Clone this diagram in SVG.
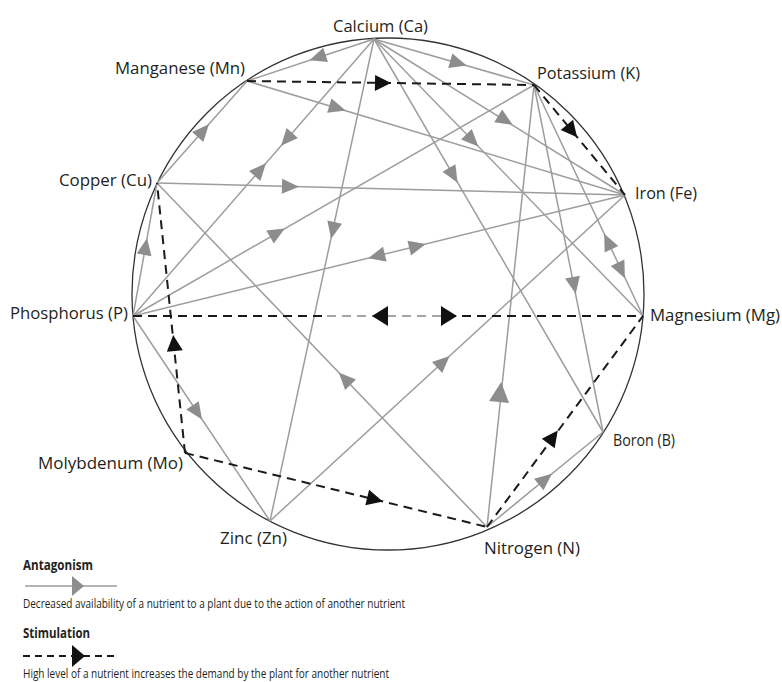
<svg xmlns="http://www.w3.org/2000/svg" width="782" height="682" viewBox="0 0 782 682">
<style>
.lbl{font-family:"Open Sans","Liberation Sans",sans-serif;font-size:16px;fill:#231f20}
.ant{stroke:#9d9d9d;stroke-width:1.5;fill:none}
.stim{stroke:#1a1a1a;stroke-width:2;stroke-dasharray:9 6;fill:none}
.stimg{stroke:#a5a5a5;stroke-width:2;stroke-dasharray:9 6;fill:none}
.lh{font-family:"Open Sans","Liberation Sans",sans-serif;font-size:15px;font-weight:bold;fill:#231f20}
.ld{font-family:"Open Sans","Liberation Sans",sans-serif;font-size:12.5px;fill:#231f20}
</style>
<defs>
<path id="ga" d="M9,0 L-8,-7.5 L-8,7.5 Z" fill="#8d8d8d"/>
<path id="gaL" d="M11,0 L-9,-10 L-9,10 Z" fill="#8d8d8d"/>
<path id="ba" d="M8,0 L-8,-8 L-8,8 Z" fill="#111"/>
<path id="baL" d="M8,0 L-8,-10 L-8,10 Z" fill="#111"/>
</defs>
<rect width="782" height="682" fill="#fff"/>
<circle cx="388" cy="294" r="256" fill="none" stroke="#333" stroke-width="1.3"/>
<g id="connectors">
<g id="antagonism">
<line class="ant" x1="374" y1="39" x2="247" y2="81"/>
<line class="ant" x1="374" y1="39" x2="534" y2="85"/>
<line class="ant" x1="374" y1="39" x2="625" y2="195"/>
<line class="ant" x1="374" y1="39" x2="643" y2="316"/>
<line class="ant" x1="374" y1="39" x2="603" y2="432"/>
<line class="ant" x1="374" y1="39" x2="270" y2="521"/>
<line class="ant" x1="133" y1="316" x2="374" y2="39"/>
<line class="ant" x1="157" y1="183" x2="247" y2="81"/>
<line class="ant" x1="133" y1="316" x2="157" y2="183"/>
<line class="ant" x1="247" y1="81" x2="625" y2="195"/>
<line class="ant" x1="157" y1="183" x2="625" y2="195"/>
<line class="ant" x1="133" y1="316" x2="534" y2="85"/>
<line class="ant" x1="133" y1="316" x2="625" y2="195"/>
<line class="ant" x1="270" y1="521" x2="625" y2="195"/>
<line class="ant" x1="534" y1="85" x2="603" y2="432"/>
<line class="ant" x1="534" y1="85" x2="643" y2="316"/>
<line class="ant" x1="487" y1="527" x2="534" y2="85"/>
<line class="ant" x1="487" y1="527" x2="157" y2="183"/>
<line class="ant" x1="133" y1="316" x2="270" y2="521"/>
<line class="ant" x1="487" y1="527" x2="603" y2="432"/>
</g>
<g id="stimulation">
<line class="stim" x1="247" y1="81" x2="534" y2="85"/>
<line class="stim" x1="534" y1="85" x2="625" y2="195"/>
<line class="stim" x1="133" y1="316" x2="327" y2="316"/>
<line class="stimg" x1="327" y1="316" x2="447" y2="316"/>
<line class="stim" x1="447" y1="316" x2="643" y2="316"/>
<line class="stim" x1="185" y1="453" x2="157" y2="183"/>
<line class="stim" x1="185" y1="453" x2="487" y2="527"/>
<line class="stim" x1="487" y1="527" x2="643" y2="316"/>
</g>
<g id="arrowheads">
<use href="#ga" transform="translate(318,57.5) rotate(161.7)"/>
<use href="#ga" transform="translate(458,63) rotate(16)"/>
<use href="#ga" transform="translate(505,120) rotate(31.9)"/>
<use href="#ga" transform="translate(472,140) rotate(45.8)"/>
<use href="#ga" transform="translate(453,175) rotate(59.8)"/>
<use href="#ga" transform="translate(333,230) rotate(102.2)"/>
<use href="#ga" transform="translate(260,170) rotate(-49)"/>
<use href="#ga" transform="translate(287,139) rotate(131)"/>
<use href="#ga" transform="translate(203,131) rotate(-48.6)"/>
<use href="#ga" transform="translate(145.5,247) rotate(-79.8)"/>
<use href="#ga" transform="translate(337,108) rotate(16.8)"/>
<use href="#ga" transform="translate(290,186.4) rotate(1.5)"/>
<use href="#ga" transform="translate(277,233) rotate(-29.9)"/>
<use href="#ga" transform="translate(377,256) rotate(166.2)"/>
<use href="#ga" transform="translate(417,246.2) rotate(-13.8)"/>
<use href="#ga" transform="translate(443,362) rotate(-42.6)"/>
<use href="#ga" transform="translate(574,285) rotate(78.8)"/>
<use href="#ga" transform="translate(608,242) rotate(244.7)"/>
<use href="#ga" transform="translate(621,270) rotate(64.7)"/>
<use href="#gaL" transform="translate(500,393) rotate(-83.9)"/>
<use href="#ga" transform="translate(345,379) rotate(-133.8)"/>
<use href="#ga" transform="translate(197,412) rotate(56.2)"/>
<use href="#ga" transform="translate(545,479.5) rotate(-39.3)"/>
<use href="#ba" transform="translate(383,83) rotate(0.8)"/>
<use href="#ba" transform="translate(572,131) rotate(50.4)"/>
<use href="#baL" transform="translate(380,316) rotate(180)"/>
<use href="#baL" transform="translate(449,316)"/>
<use href="#ba" transform="translate(174,343) rotate(-95.9)"/>
<use href="#ba" transform="translate(375,499.5) rotate(13.8)"/>
<use href="#ba" transform="translate(553,437) rotate(-53.5)"/>
</g>
</g>
<g id="node-ca"><text class="lbl" x="333" y="32" textLength="95" lengthAdjust="spacingAndGlyphs">Calcium (Ca)</text></g>
<g id="node-mn"><text class="lbl" x="115" y="74" textLength="130" lengthAdjust="spacingAndGlyphs">Manganese (Mn)</text></g>
<g id="node-k"><text class="lbl" x="537" y="79" textLength="103" lengthAdjust="spacingAndGlyphs">Potassium (K)</text></g>
<g id="node-cu"><text class="lbl" x="59" y="186" textLength="93" lengthAdjust="spacingAndGlyphs">Copper (Cu)</text></g>
<g id="node-fe"><text class="lbl" x="635" y="199" textLength="62" lengthAdjust="spacingAndGlyphs">Iron (Fe)</text></g>
<g id="node-p"><text class="lbl" x="10" y="319" textLength="118" lengthAdjust="spacingAndGlyphs">Phosphorus (P)</text></g>
<g id="node-mg"><text class="lbl" x="650" y="321" textLength="130" lengthAdjust="spacingAndGlyphs">Magnesium (Mg)</text></g>
<g id="node-mo"><text class="lbl" x="38" y="469" textLength="145" lengthAdjust="spacingAndGlyphs">Molybdenum (Mo)</text></g>
<g id="node-b"><text class="lbl" x="613" y="446" textLength="62" lengthAdjust="spacingAndGlyphs">Boron (B)</text></g>
<g id="node-zn"><text class="lbl" x="220" y="544" textLength="67" lengthAdjust="spacingAndGlyphs">Zinc (Zn)</text></g>
<g id="node-n"><text class="lbl" x="484" y="554" textLength="96" lengthAdjust="spacingAndGlyphs">Nitrogen (N)</text></g>
<g id="legend">
<text class="lh" x="23" y="570" textLength="70" lengthAdjust="spacingAndGlyphs">Antagonism</text>
<line class="ant" x1="25" y1="586" x2="117" y2="586"/>
<path d="M84,586 L72,576 L72,596 Z" fill="#8d8d8d"/>
<text class="ld" x="23" y="608" textLength="382" lengthAdjust="spacingAndGlyphs">Decreased availability of a nutrient to a plant due to the action of another nutrient</text>
<text class="lh" x="23" y="638" textLength="67" lengthAdjust="spacingAndGlyphs">Stimulation</text>
<line class="stim" x1="23" y1="656" x2="115" y2="656" style="stroke-dasharray:7 5"/>
<path d="M85,656 L72,645 L72,667 Z" fill="#111"/>
<text class="ld" x="23" y="678" textLength="366" lengthAdjust="spacingAndGlyphs">High level of a nutrient increases the demand by the plant for another nutrient</text>
</g>
</svg>
